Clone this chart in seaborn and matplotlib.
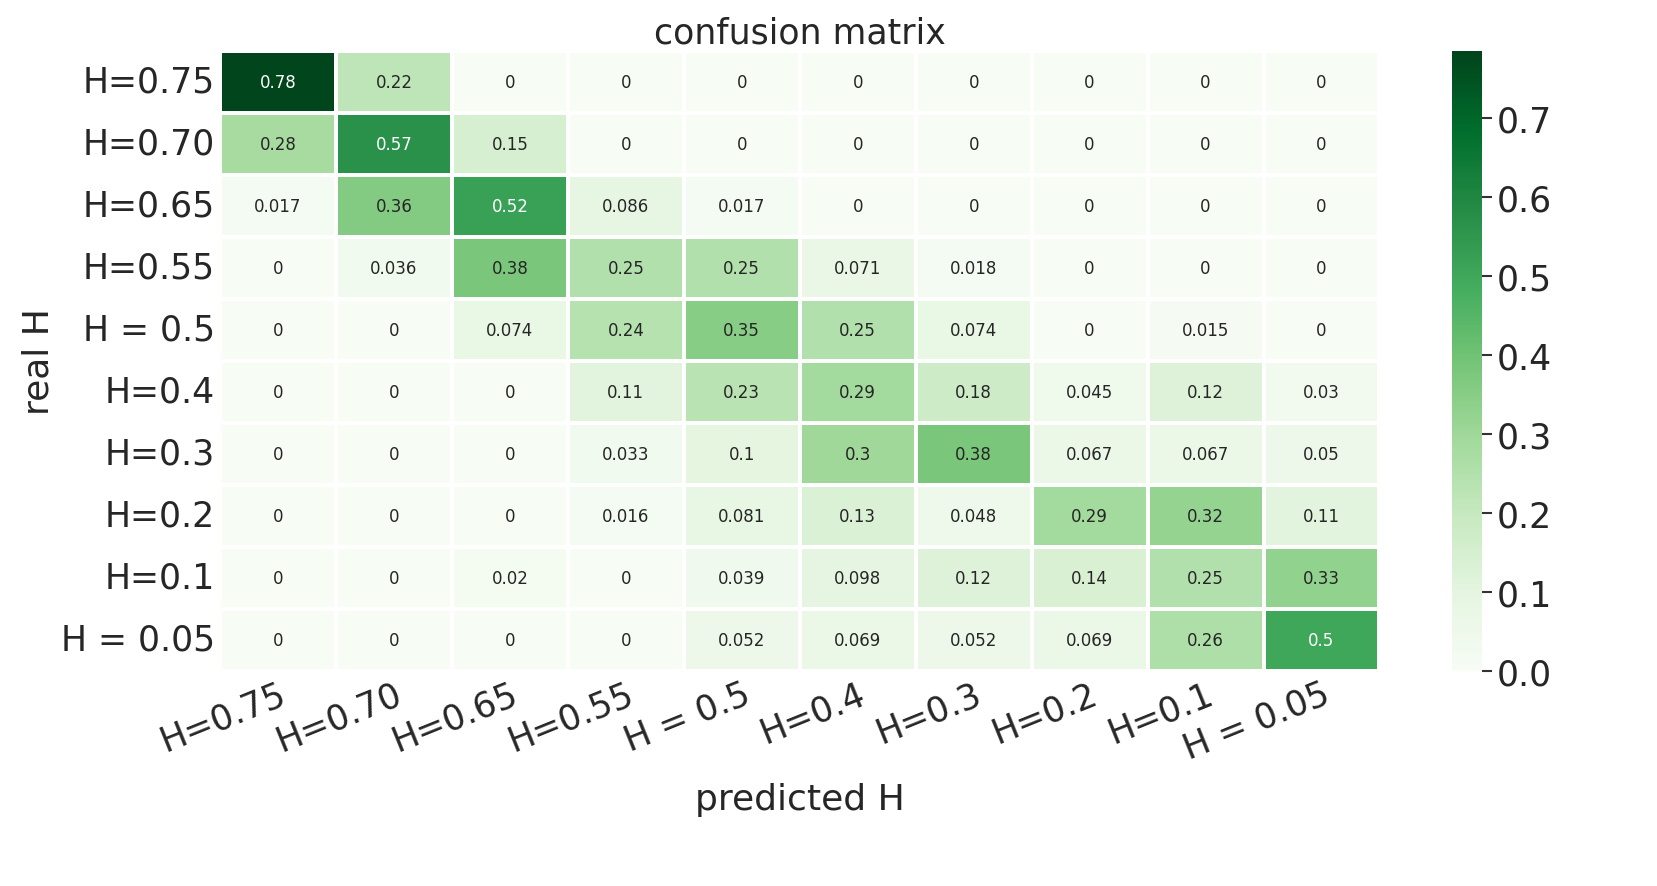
import numpy as np
import pandas as pd
import matplotlib
matplotlib.use("Agg")
import matplotlib.pyplot as plt
import seaborn as sns

labels = ["H=0.75", "H=0.70", "H=0.65", "H=0.55", "H = 0.5", "H=0.4", "H=0.3", "H=0.2", "H=0.1", "H = 0.05"]
row_075 = [0.78, 0.22, 0, 0, 0, 0, 0, 0, 0, 0]
row_070 = [0.28, 0.57, 0.15, 0, 0, 0, 0, 0, 0, 0]
row_065 = [0.017, 0.36, 0.52, 0.086, 0.017, 0, 0, 0, 0, 0]
row_055 = [0, 0.036, 0.38, 0.25, 0.25, 0.071, 0.018, 0, 0, 0]
row_05 = [0, 0, 0.074, 0.24, 0.35, 0.25, 0.074, 0, 0.015, 0]
row_04 = [0, 0, 0, 0.11, 0.23, 0.29, 0.18, 0.045, 0.12, 0.03]
row_03 = [0, 0, 0, 0.033, 0.1, 0.3, 0.38, 0.067, 0.067, 0.05]
row_02 = [0, 0, 0, 0.016, 0.081, 0.13, 0.048, 0.29, 0.32, 0.11]
row_01 = [0, 0, 0.02, 0, 0.039, 0.098, 0.12, 0.14, 0.25, 0.33]
row_005 = [0, 0, 0, 0, 0.052, 0.069, 0.052, 0.069, 0.26, 0.5]

data = pd.DataFrame([row_075, row_070, row_065, row_055, row_05, row_04, row_03, row_02, row_01, row_005],
                    index=labels, columns=labels)

sns.set_theme(style="white")
plt.rcParams['font.family'] = ['DejaVu Sans']
fig = plt.figure(figsize=(16.58, 8.87), dpi=100)
ax = fig.add_axes([0.1327, 0.2424, 0.6993, 0.6990])
cax = fig.add_axes([0.876, 0.2424, 0.018, 0.6990])
sns.heatmap(data, ax=ax, cbar_ax=cax, cmap="Greens", annot=True, fmt=".2g",
            linewidths=1.5, linecolor="white", vmin=0, vmax=0.785,
            annot_kws={"size": 12})
ax.set_title("confusion matrix", fontsize=25)
ax.set_xlabel("predicted H", fontsize=26, labelpad=12)
ax.set_ylabel("real H", fontsize=26)
ax.tick_params(axis="both", length=0, labelsize=25)
plt.setp(ax.get_xticklabels(), rotation=22, ha="right", rotation_mode="anchor")
plt.setp(ax.get_yticklabels(), rotation=0)
cax.tick_params(labelsize=25, length=7, width=1.5, color="#333333")
cax.set_yticks([0, 0.1, 0.2, 0.3, 0.4, 0.5, 0.6, 0.7])
for s in cax.spines.values():
    s.set_visible(False)
fig.savefig("out.png", dpi=100)
